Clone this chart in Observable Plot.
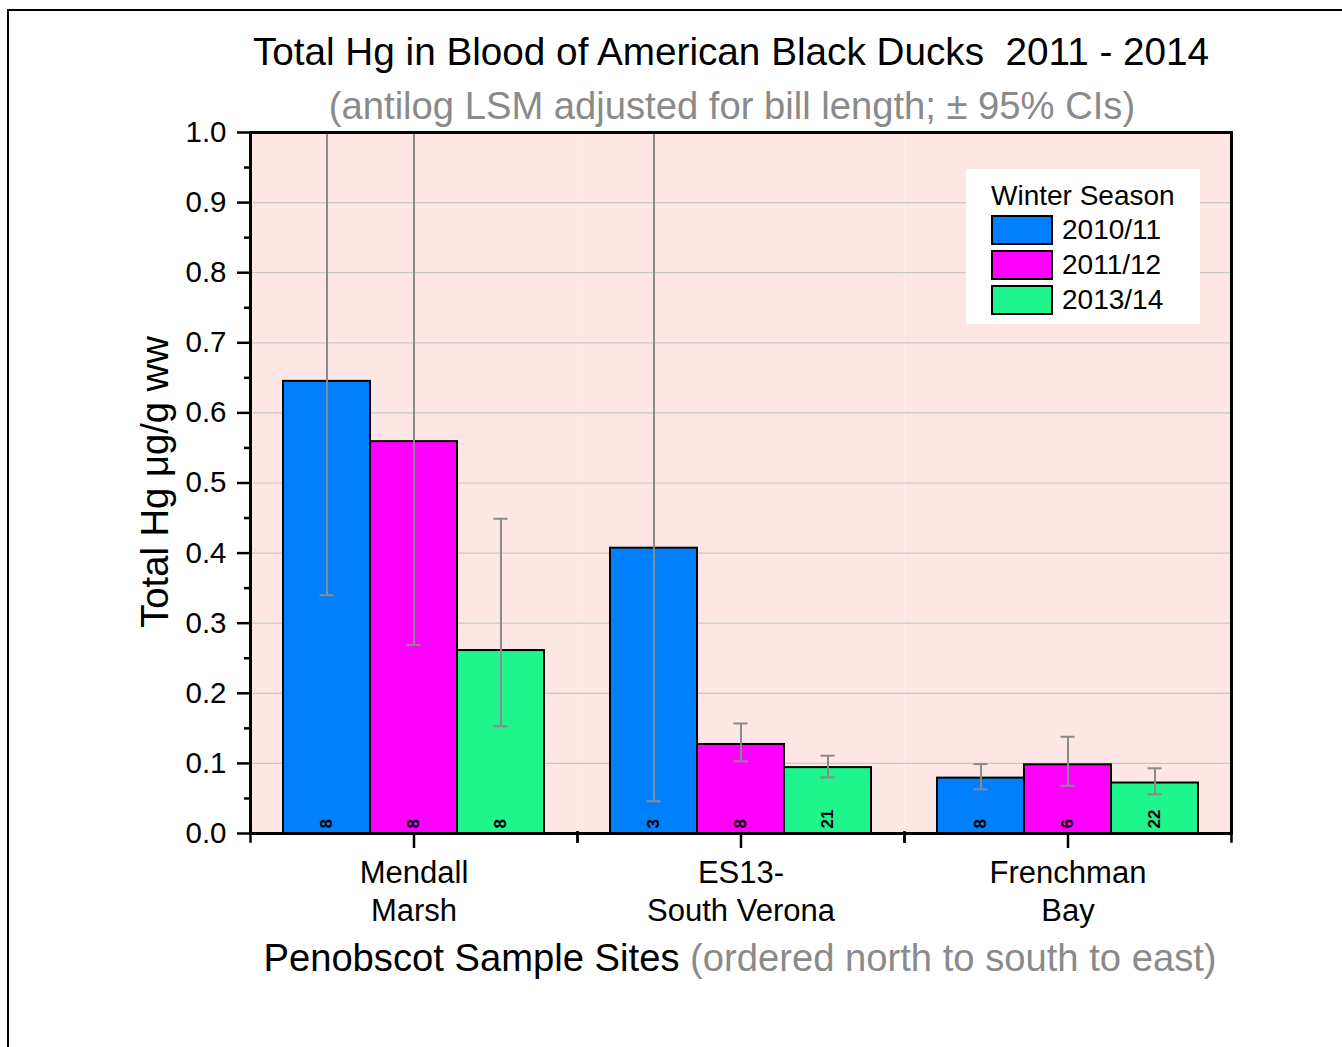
<!DOCTYPE html>
<html>
<head>
<meta charset="utf-8">
<script src="https://cdn.jsdelivr.net/npm/d3@7"></script>
<script src="https://cdn.jsdelivr.net/npm/@observablehq/plot@0.6"></script>
<style>
  html, body { margin: 0; padding: 0; background: #fff; }
  body { font-family: "Liberation Sans", Arial, sans-serif; }
  #wrap { position: relative; width: 1342px; height: 1047px; overflow: hidden; }
  #chart { position: absolute; left: 0; top: 0; }
  #border { position: absolute; left: 7px; top: 9px; width: 1400px; height: 1100px;
            border-left: 2px solid #000; border-top: 2px solid #000; pointer-events: none; }
  .t { position: absolute; white-space: nowrap; line-height: 1; font-size: 38.2px; color: #000; }
  .c { transform: translateX(-50%); }
  .gray { color: #8a8a8a; }
  #ylab { transform: translate(-50%, -50%) rotate(-90deg); }
  #legend { position: absolute; left: 966px; top: 169px; width: 234px; height: 155px; background: #fff; }
  #legend .ttl { position: absolute; left: 25px; top: 13px; font-size: 28px; line-height: 1; white-space: nowrap; }
  #legend .item { position: absolute; left: 25px; height: 30px; }
  #legend .sw { position: absolute; left: 0; top: 0; width: 58px; height: 26px; border: 2px solid #000; }
  #legend .lab { position: absolute; left: 71px; top: 1px; font-size: 28px; line-height: 1; white-space: nowrap; }
</style>
</head>
<body>
<div id="wrap">
  <div id="chart"></div>
  <div class="t c" style="left:731px; top:33px; font-size:38.7px;">Total Hg in Blood of American Black Ducks&nbsp; 2011 - 2014</div>
  <div class="t c gray" style="left:732px; top:87px;">(antilog LSM adjusted for bill length; ± 95% CIs)</div>
  <div class="t c" style="left:740px; top:939px;">Penobscot Sample Sites <span class="gray">(ordered north to south to east)</span></div>
  <div class="t" id="ylab" style="left:155px; top:482px;">Total Hg μg/g ww</div>
  <div id="legend"></div>
  <div id="border"></div>
</div>
<script>
// ---- data ----
const sites = ["Mendall Marsh", "ES13-South Verona", "Frenchman Bay"];
const siteTickLabels = ["Mendall\nMarsh", "ES13-\nSouth Verona", "Frenchman\nBay"];
const seasons = ["2010/11", "2011/12", "2013/14"];
const seasonColors = ["#0080ff", "#ff00ff", "#1ef58c"];
const legendTitle = "Winter Season";

// least-squares means per season, in site order
const mean2010 = [0.645, 0.407, 0.079];
const mean2011 = [0.559, 0.127, 0.098];
const mean2013 = [0.261, 0.094, 0.072];
// lower 95% CI
const low2010 = [0.340, 0.046, 0.063];
const low2011 = [0.269, 0.103, 0.068];
const low2013 = [0.153, 0.080, 0.056];
// upper 95% CI (values above 1.0 run off the top of the chart; estimated)
const high2010 = [1.22, 3.6, 0.099];
const high2011 = [1.16, 0.157, 0.138];
const high2013 = [0.449, 0.111, 0.093];
// sample sizes
const n2010 = [8, 3, 8];
const n2011 = [8, 8, 6];
const n2013 = [8, 21, 22];

const yTicks = [0, 0.1, 0.2, 0.3, 0.4, 0.5, 0.6, 0.7, 0.8, 0.9, 1.0];
const yMinorTicks = [0.05, 0.15, 0.25, 0.35, 0.45, 0.55, 0.65, 0.75, 0.85, 0.95];

const means = [mean2010, mean2011, mean2013];
const lows = [low2010, low2011, low2013];
const highs = [high2010, high2011, high2013];
const ns = [n2010, n2011, n2013];

const data = sites.flatMap((site, i) => seasons.map((season, j) => ({
  site, season, mean: means[j][i], lo: lows[j][i], hi: highs[j][i], n: ns[j][i]
})));

const errColor = "#8a8a8a";

const chart = Plot.plot({
  width: 1342,
  height: 1047,
  marginLeft: 250,
  marginRight: 111,
  marginTop: 132,
  marginBottom: 214,
  style: { fontFamily: "'Liberation Sans', Arial, sans-serif", background: "transparent", color: "#000" },
  fx: { domain: sites, padding: 0, label: null, axis: null },
  x: { domain: seasons, paddingInner: 0, paddingOuter: 0.368, axis: null },
  y: { domain: [0, 1], axis: null },
  color: { domain: seasons, range: seasonColors },
  marks: [
    Plot.frame({ fill: "#fee6e5", stroke: null }),
    Plot.gridY(yTicks, { stroke: "#c8c8c8", strokeOpacity: 1, strokeWidth: 1.2 }),
    Plot.barY(data, { fx: "site", x: "season", y: "mean", fill: "season", stroke: "#000", strokeWidth: 2 }),
    Plot.ruleX(data, { fx: "site", x: "season", y1: "lo", y2: "hi", stroke: errColor, strokeWidth: 2, clip: true }),
    Plot.tickY(data, { fx: "site", x: "season", y: "lo", stroke: errColor, strokeWidth: 2, insetLeft: 36.5, insetRight: 36.5, clip: true }),
    Plot.tickY(data, { fx: "site", x: "season", y: "hi", stroke: errColor, strokeWidth: 2, insetLeft: 36.5, insetRight: 36.5, clip: true }),
    Plot.text(data, { fx: "site", x: "season", y: () => 0, text: "n", rotate: -90, textAnchor: "start", dy: -5,
                      fontWeight: "bold", fontSize: 17, fill: "#000" }),
    Plot.axisY({ ticks: yTicks, tickFormat: d3.format(".1f"), tickSize: 13, tickPadding: 11, fontSize: 29.5,
                 strokeWidth: 2.5, label: null }),
    Plot.axisY({ ticks: yMinorTicks, tickFormat: () => "", tickSize: 6, strokeWidth: 2.5, label: null }),
    Plot.axisFx({ anchor: "bottom", tickSize: 15, tickPadding: 7, fontSize: 31, lineHeight: 1.23,
                  strokeWidth: 2.5, label: null,
                  tickFormat: d => siteTickLabels[sites.indexOf(d)] }),
    Plot.frame({ anchor: "left", insetTop: 700, insetBottom: -8, stroke: "#000", strokeWidth: 2.5 }),
    Plot.frame({ anchor: "right", insetTop: 700, insetBottom: -8, stroke: "#000", strokeWidth: 2.5 }),
    Plot.frame({ facet: "super", stroke: "#000", strokeWidth: 3 })
  ]
});
document.getElementById("chart").appendChild(chart);

// legend built from the season arrays
const legend = document.getElementById("legend");
const ttl = document.createElement("div");
ttl.className = "ttl";
ttl.textContent = legendTitle;
legend.appendChild(ttl);
seasons.forEach((s, i) => {
  const item = document.createElement("div");
  item.className = "item";
  item.style.top = (46 + i * 35) + "px";
  const sw = document.createElement("div");
  sw.className = "sw";
  sw.style.background = seasonColors[i];
  const lab = document.createElement("div");
  lab.className = "lab";
  lab.textContent = s;
  item.appendChild(sw);
  item.appendChild(lab);
  legend.appendChild(item);
});
</script>
</body>
</html>
